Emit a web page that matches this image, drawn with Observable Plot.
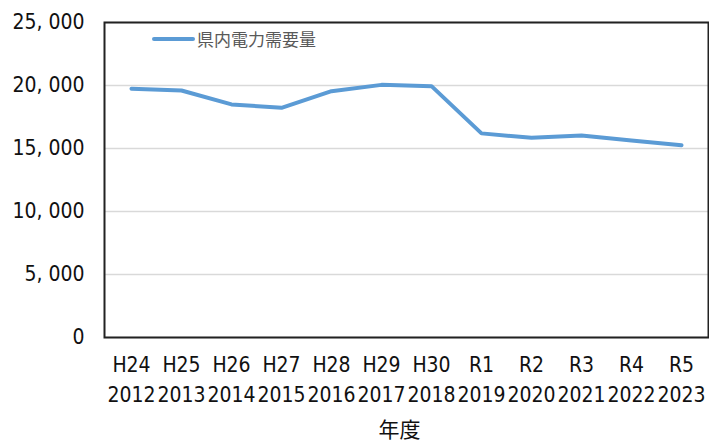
<!DOCTYPE html>
<html><head><meta charset="utf-8">
<script src="https://cdn.jsdelivr.net/npm/d3@7"></script>
<script src="https://cdn.jsdelivr.net/npm/@observablehq/plot@0.6"></script>
<style>
body{margin:0;background:#fff;}
#wrap{position:relative;width:709px;height:444px;}
.legend{position:absolute;left:152px;top:28px;display:flex;align-items:center;font-family:"Noto Sans CJK JP",sans-serif;font-size:17px;color:#595959;line-height:22px;}
.legend .sw{width:43px;height:4px;background:#5B9BD5;border-radius:2px;margin-right:2px;}
</style></head><body><div id="wrap"></div>
<script>
const eras = ["H24","H25","H26","H27","H28","H29","H30","R1","R2","R3","R4","R5"];
const years = ["2012","2013","2014","2015","2016","2017","2018","2019","2020","2021","2022","2023"];
const demand = [19750,19600,18500,18230,19550,20050,19950,16200,15850,16030,15630,15260];
const seriesName = "県内電力需要量";
const axisTitle = "年度";
const yTicks = [0,5000,10000,15000,20000,25000];

const data = years.map((y,i)=>({year:y, era:eras[i], value:demand[i]}));
const eraOf = Object.fromEntries(years.map((y,i)=>[y,eras[i]]));
const fmt = d => d3.format(",")(d).replace(",", ", ");

const chart = Plot.plot({
  width:709, height:444, marginLeft:104, marginRight:1, marginTop:22, marginBottom:107,
  style:{fontFamily:"'Liberation Sans Narrow','DejaVu Sans Condensed',sans-serif", fontSize:"21px", color:"#111", background:"#fff"},
  x:{type:"point", domain:years, padding:0.5},
  y:{domain:[0,25000]},
  marks:[
    Plot.gridY(yTicks, {stroke:"#d9d9d9", strokeOpacity:1, strokeWidth:1.5}),
    Plot.axisY(yTicks, {tickSize:0, tickPadding:20, tickFormat:fmt, label:null, fontSize:21}),
    Plot.axisX({tickSize:0, tickPadding:20, tickFormat:d=>eraOf[d], label:null, fontSize:21}),
    Plot.axisX({tickSize:0, tickPadding:50, tickFormat:d=>d, label:null, fontSize:21}),
    Plot.line(data, {x:"year", y:"value", stroke:"#5B9BD5", strokeWidth:4, strokeLinejoin:"round", strokeLinecap:"round"}),
    Plot.frame({stroke:"#222", strokeWidth:2}),
    Plot.text([axisTitle], {frameAnchor:"bottom", dy:99, dx:-7, fontFamily:"'Noto Sans CJK JP',sans-serif", fontSize:21, fill:"#111"})
  ]
});
const wrap = document.getElementById("wrap");
wrap.appendChild(chart);
const lg = document.createElement("div");
lg.className = "legend";
lg.innerHTML = '<span class="sw"></span><span></span>';
lg.lastChild.textContent = seriesName;
wrap.appendChild(lg);
</script>
</body></html>
